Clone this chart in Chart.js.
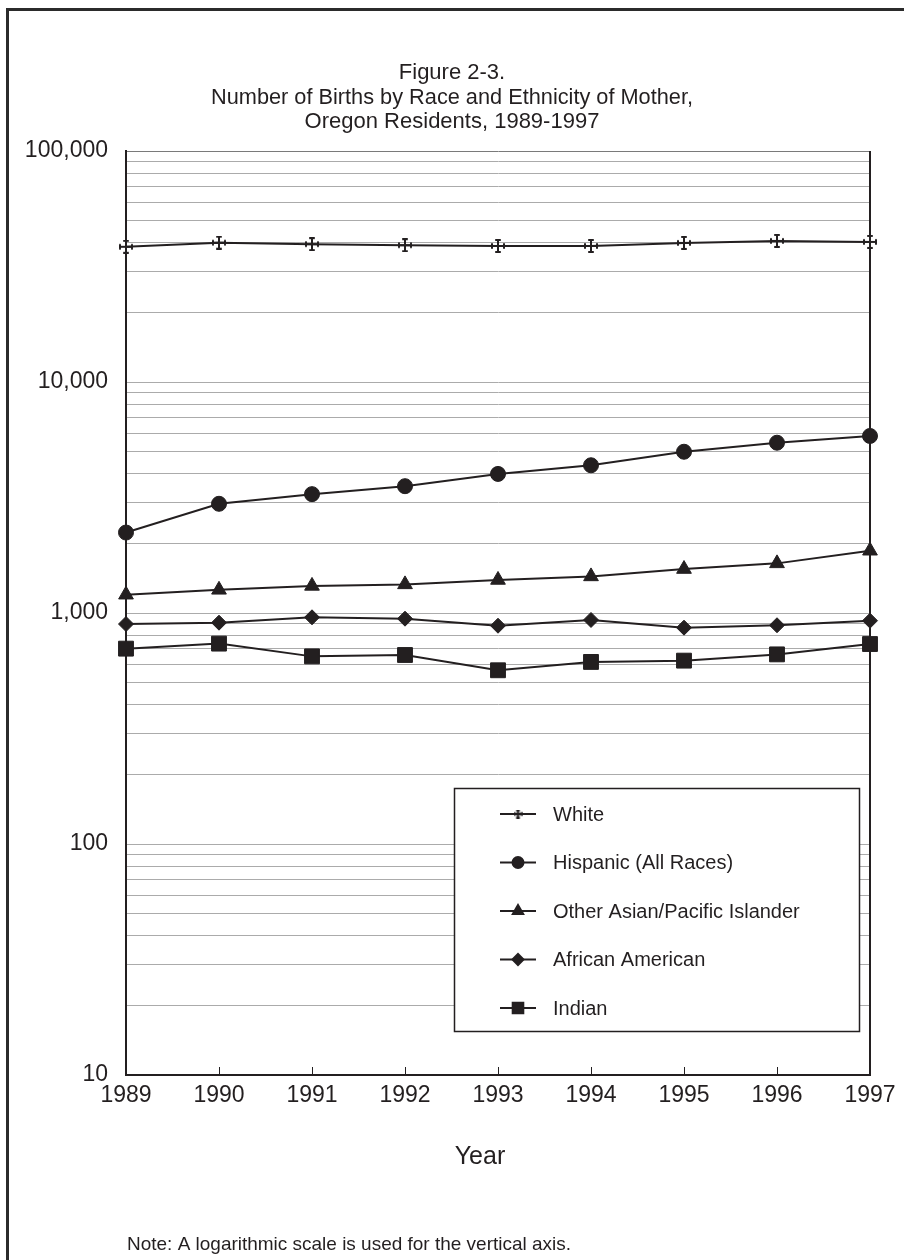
<!DOCTYPE html>
<html>
<head>
<meta charset="utf-8">
<title>Figure 2-3. Number of Births by Race and Ethnicity of Mother</title>
<script src="https://cdn.jsdelivr.net/npm/chart.js@4.4.1/dist/chart.umd.min.js"></script>
<style>
    html, body { margin: 0; padding: 0; background: #ffffff; }
    #wrap { width: 904px; height: 1260px; position: relative; }
</style>
</head>
<body>
<div id="wrap"><canvas id="birthsChart" width="904" height="1260"></canvas></div>
<script>
// =========================================================
// DATA (log scale, approximate)
// =========================================================
const years = ['1989', '1990', '1991', '1992', '1993', '1994', '1995', '1996', '1997'];

const white           = [38500, 40100, 39500, 39100, 38800, 38800, 40000, 40800, 40400];
const hispanic        = [2230, 2970, 3270, 3540, 4000, 4360, 4990, 5460, 5840];
const asianPacific    = [1200, 1260, 1310, 1330, 1390, 1440, 1550, 1640, 1860];
const africanAmerican = [896, 908, 958, 945, 881, 933, 864, 885, 926];
const indian          = [701, 737, 649, 658, 565, 614, 622, 662, 734];

const seriesNames = ['White', 'Hispanic (All Races)', 'Other Asian/Pacific Islander', 'African American', 'Indian'];

const yLabelTicks = [10, 100, 1000, 10000, 100000];
const yMinorSteps = [2, 3, 4, 5, 6, 7, 8, 9];

const titleLines = [
    'Figure 2-3.',
    'Number of Births by Race and Ethnicity of Mother,',
    'Oregon Residents, 1989-1997'
];
const xAxisTitle = 'Year';
const noteText = 'Note: A logarithmic scale is used for the vertical axis.';

const INK = '#231f20';
const FONT = '"Liberation Sans", Arial, sans-serif';

// =========================================================
// White marker: cross with little serifs
// =========================================================
function serifCross(size) {
    const c = document.createElement('canvas');
    c.width = size; c.height = size;
    const g = c.getContext('2d');
    const m = size / 2, arm = size / 2 - 1, cap = size * 0.2;
    g.strokeStyle = INK;
    g.lineWidth = 2;
    g.beginPath();
    g.moveTo(m, m - arm); g.lineTo(m, m + arm);
    g.moveTo(m - arm, m); g.lineTo(m + arm, m);
    g.moveTo(m - cap, m - arm); g.lineTo(m + cap, m - arm);
    g.moveTo(m - cap, m + arm); g.lineTo(m + cap, m + arm);
    g.moveTo(m - arm, m - cap); g.lineTo(m - arm, m + cap);
    g.moveTo(m + arm, m - cap); g.lineTo(m + arm, m + cap);
    g.stroke();
    return c;
}
const crossBig = serifCross(14);
const crossSmall = serifCross(9);

// y ticks: decades plus 2..9 multiples for the grid
const yAllTicks = [];
yLabelTicks.forEach((d, i) => {
    yAllTicks.push(d);
    if (i < yLabelTicks.length - 1) yMinorSteps.forEach(s => yAllTicks.push(d * s));
});

function lineSet(label, data, style, radius, legendRadius) {
    return {
        label: label,
        data: data,
        borderColor: INK,
        backgroundColor: INK,
        borderWidth: 2,
        pointStyle: style,
        pointRadius: radius,
        pointHoverRadius: radius,
        pointBackgroundColor: INK,
        pointBorderColor: INK,
        pointBorderWidth: 1,
        legendRadius: legendRadius,
        tension: 0,
        clip: false,
    };
}

// =========================================================
// Frame, titles, inner ticks, right axis, legend box
// =========================================================
const decorPlugin = {
    id: 'decor',
    afterDraw(chart) {
        const ctx = chart.ctx;
        const area = chart.chartArea;
        const xs = chart.scales.x;
        ctx.save();

        // outer frame (left + top)
        ctx.strokeStyle = '#2b2b2b';
        ctx.lineWidth = 3;
        ctx.beginPath();
        ctx.moveTo(7.5, 1260);
        ctx.lineTo(7.5, 9.5);
        ctx.lineTo(904, 9.5);
        ctx.stroke();

        // right axis line
        ctx.strokeStyle = INK;
        ctx.lineWidth = 2;
        ctx.beginPath();
        ctx.moveTo(area.right, area.top);
        ctx.lineTo(area.right, area.bottom + 1);
        ctx.stroke();

        // inward tick marks on the year axis
        ctx.lineWidth = 1;
        ctx.beginPath();
        for (let i = 1; i < years.length - 1; i++) {
            const px = Math.round(xs.getPixelForValue(i)) + 0.5;
            ctx.moveTo(px, area.bottom);
            ctx.lineTo(px, area.bottom - 8);
        }
        ctx.stroke();

        // title
        ctx.fillStyle = INK;
        ctx.textAlign = 'center';
        ctx.textBaseline = 'middle';
        ctx.font = '22px ' + FONT;
        const titleY = [73, 98, 122];
        titleLines.forEach((t, i) => ctx.fillText(t, 452, titleY[i], 482));

        // x-axis title
        ctx.font = '25px ' + FONT;
        ctx.fillText(xAxisTitle, 480, 1157);

        // note
        ctx.textAlign = 'left';
        ctx.font = '19px ' + FONT;
        ctx.fillText(noteText, 127, 1245, 444);

        // legend box
        const box = { left: 454, top: 788, width: 405, height: 243 };
        ctx.fillStyle = '#ffffff';
        ctx.fillRect(box.left, box.top, box.width, box.height);
        ctx.strokeStyle = INK;
        ctx.lineWidth = 1.5;
        ctx.strokeRect(box.left + 0.5, box.top + 0.5, box.width, box.height);

        ctx.font = '20px ' + FONT;
        chart.data.datasets.forEach((ds, i) => {
            const y = 814 + i * 48.5;
            ctx.strokeStyle = INK;
            ctx.lineWidth = 2;
            ctx.beginPath();
            ctx.moveTo(500, y);
            ctx.lineTo(536, y);
            ctx.stroke();
            const style = ds.pointStyle === crossBig ? crossSmall : ds.pointStyle;
            ctx.fillStyle = INK;
            Chart.helpers.drawPoint(ctx, {
                pointStyle: style, radius: ds.legendRadius, rotation: 0, borderWidth: 1
            }, 518, y);
            ctx.fillStyle = INK;
            ctx.textAlign = 'left';
            ctx.fillText(ds.label, 553, y + 1, 256);
        });

        ctx.restore();
    }
};

new Chart(document.getElementById('birthsChart'), {
    type: 'line',
    data: {
        labels: years,
        datasets: [
            lineSet(seriesNames[0], white, crossBig, 7, 5),
            lineSet(seriesNames[1], hispanic, 'circle', 7.5, 5.5),
            lineSet(seriesNames[2], asianPacific, 'triangle', 8.5, 6),
            lineSet(seriesNames[3], africanAmerican, 'rectRot', 7.5, 5.5),
            lineSet(seriesNames[4], indian, 'rect', 10.5, 7.5),
        ]
    },
    options: {
        responsive: false,
        animation: false,
        events: [],
        layout: { padding: { top: 151, right: 34, bottom: 0, left: 0 } },
        plugins: {
            legend: { display: false },
            title: { display: false },
            tooltip: { enabled: false },
        },
        scales: {
            x: {
                type: 'category',
                offset: false,
                grid: { display: false, drawTicks: false },
                border: { display: true, color: INK, width: 2 },
                ticks: {
                    font: { family: FONT, size: 23 },
                    color: INK,
                    padding: 7,
                    maxRotation: 0,
                    autoSkip: false,
                },
                afterFit: scale => { scale.height = 1260 - 1075; },
            },
            y: {
                type: 'logarithmic',
                min: 10,
                max: 100000,
                afterBuildTicks: scale => {
                    scale.ticks = yAllTicks.map(v => ({ value: v }));
                },
                afterFit: scale => { scale.width = 126; },
                grid: {
                    drawTicks: false,
                    lineWidth: 1,
                    color: ctx => (ctx.tick && ctx.tick.value === 100000) ? '#7a7a7a' : '#ababab',
                },
                border: { display: true, color: INK, width: 2 },
                ticks: {
                    autoSkip: false,
                    padding: 18,
                    font: { family: FONT, size: 23 },
                    color: INK,
                    callback: v => yLabelTicks.includes(v) ? v.toLocaleString('en-US') : '',
                }
            }
        }
    },
    plugins: [decorPlugin]
});
</script>
</body>
</html>
